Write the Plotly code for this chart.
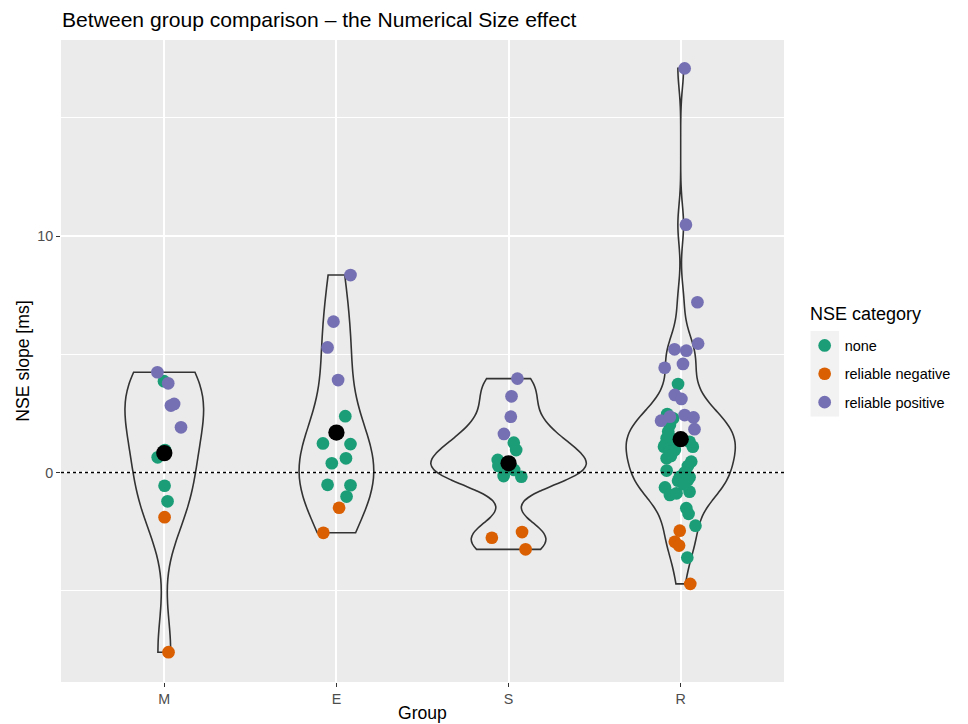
import numpy as np
import plotly.graph_objects as go

# ---------------- data ----------------
groups = ["M", "E", "S", "R"]
categories = ["none", "reliable negative", "reliable positive"]

# NSE slope values [ms], horizontal jitter (px at 175 px per group step), category code
M_values = [4.24, 3.86, 3.77, 2.83, 2.90, 1.91, 0.64, 0.95, -0.56, -1.22, -1.89, -7.60]
M_jitter = [-7, -0.3, 4, 6.7, 10, 17, -6.7, 0.7, 0.3, 3.3, 0.3, 4.3]
M_cat = ["pos", "none", "pos", "pos", "pos", "pos", "none", "none", "none", "none", "neg", "neg"]

E_values = [8.35, 6.38, 5.29, 3.91, 2.38, 1.23, 1.20, 0.60, 0.39, -0.52, -0.54, -1.02, -1.49, -2.55]
E_jitter = [14.3, -3, -9, 1.7, 9, -13.7, 14.3, 9.7, -4.7, -9, 14.3, 10.3, 2.7, -13.3]
E_cat = ["pos", "pos", "pos", "pos", "none", "none", "none", "none", "none", "none", "none", "none", "neg", "neg"]

S_values = [3.97, 3.22, 2.36, 1.63, 1.26, 0.95, 0.53, 0.27, -0.15, 0.11, -0.18, -2.76, -2.52, -3.25]
S_jitter = [9, 3, 2.3, -4.7, 5.3, 7.7, -11, -10.3, -5, 5.7, 13, -17, 13.7, 17.3]
S_cat = ["pos", "pos", "pos", "pos", "none", "none", "none", "none", "none", "none", "none", "neg", "neg", "neg"]

R_values = [17.09, 10.48, 7.20, 5.45, 5.21, 5.15, 4.59, 4.43, 3.28, 3.11, 2.19, 2.36, 2.43, 2.33, 1.83,
            3.74, 2.47, 2.29, 2.01, 1.73, 1.45, 1.16, 1.09, 1.30, 0.95, 0.88, 1.09, 1.30, 0.60, 0.46,
            0.27, 0.08, -0.18, -0.32, -0.39, -0.35, -0.63, -0.95, -0.88, -0.81, -1.51, -1.75, -2.25, -3.60,
            1.40, 1.55, 0.00, -0.50, -0.20, 0.70,
            -2.46, -2.93, -3.09, -4.71]
R_jitter = [4, 5.3, 17, 17.7, -6.3, 5.7, 2.3, -16.3, -6, 0.7, -20, -11, 4, 13, 14,
            -2.7, -13.7, -7.7, -11, -12.7, -14.3, -16, -17, -9.3, -6, -11, 12.3, 9, -14.3, 10.7,
            7.3, -14.3, -1, 7.3, 2.3, -2.7, -16, -11, -4.3, 9, 5.7, 8, 15, 6.7,
            -1, -12, 4, 3, 9, -10,
            -1, -6, -1.7, 9.7]
R_cat = ["pos"] * 15 + ["none"] * 35 + ["neg"] * 4

group_values = [M_values, E_values, S_values, R_values]
group_jitter = [M_jitter, E_jitter, S_jitter, R_jitter]
group_cats = [M_cat, E_cat, S_cat, R_cat]

y_tick_vals = [0, 10]
y_minor_vals = [-5, 5, 15]

# ---------------- style ----------------
FONT = "Liberation Sans, Arial, Helvetica, sans-serif"
cat_codes = {"none": "none", "neg": "reliable negative", "pos": "reliable positive"}
cat_colors = {"none": "#1B9E77", "neg": "#D95F02", "pos": "#7570B3"}
JITTER_UNIT = 175.0
VIOLIN_WIDTHS = [0.457, 0.434, 0.903, 0.634]  # max violin widths, in group steps (measured)

W, H = 968, 724
PL, PR, PT, PB = 61, 796, 40, 682  # panel edges in px


def px2paper_x(px):
    return (px - PL) / (PR - PL)


def px2paper_y(py):
    return (PB - py) / (PB - PT)


def nrd0(v):
    v = np.asarray(v, dtype=float)
    sd = v.std(ddof=1)
    q75, q25 = np.percentile(v, [75, 25])
    lo = min(sd, (q75 - q25) / 1.34)
    return 0.9 * lo * len(v) ** -0.2


bws = [nrd0(v) for v in group_values]

fig = go.Figure()

# violins (trimmed kernel density, nrd0 bandwidth)
for i, (g, vals) in enumerate(zip(groups, group_values)):
    fig.add_trace(go.Violin(
        x=[i + 1] * len(vals), y=vals,
        width=VIOLIN_WIDTHS[i],
        bandwidth=bws[i], spanmode="hard",
        scalegroup=g, scalemode="width",
        line=dict(color="#333333", width=1.6),
        fillcolor="rgba(0,0,0,0)",
        points=False, box_visible=False, meanline_visible=False,
        showlegend=False, hoverinfo="skip",
    ))

# jittered points per category
for code in ["none", "neg", "pos"]:
    xs, ys = [], []
    for i in range(len(groups)):
        for v, j, c in zip(group_values[i], group_jitter[i], group_cats[i]):
            if c == code:
                xs.append(i + 1 + j / JITTER_UNIT)
                ys.append(v)
    fig.add_trace(go.Scatter(
        x=xs, y=ys, mode="markers", name=cat_codes[code],
        legendgroup=code,
        marker=dict(color=cat_colors[code], size=12.7, line=dict(width=0)),
    ))

# group means
means = [float(np.mean(v)) for v in group_values]
fig.add_trace(go.Scatter(
    x=list(range(1, len(groups) + 1)), y=means, mode="markers",
    marker=dict(color="black", size=16.3, line=dict(width=0)),
    showlegend=False,
))

# dotted zero line
fig.add_hline(y=0, line=dict(color="black", width=1.4, dash="dot"), layer="above")

# grey key backgrounds for legend
fig.add_shape(type="rect", xref="paper", yref="paper",
              x0=px2paper_x(823), x1=px2paper_x(852),
              y0=px2paper_y(416.5), y1=px2paper_y(331),
              fillcolor="#F2F2F2", line=dict(width=0), layer="below")

# legend title as text
fig.add_annotation(text="NSE category", xref="paper", yref="paper",
                   x=px2paper_x(820), y=px2paper_y(314), xanchor="left", yanchor="middle",
                   showarrow=False, font=dict(size=18, family=FONT, color="black"))

# axis titles as text
fig.add_annotation(text="Group", xref="paper", yref="paper",
                   x=px2paper_x(428.5), y=px2paper_y(713), xanchor="center", yanchor="middle",
                   showarrow=False, font=dict(size=17.6, family=FONT, color="black"))
fig.add_annotation(text="NSE slope [ms]", xref="paper", yref="paper", textangle=-90,
                   x=px2paper_x(22), y=px2paper_y(361), xanchor="center", yanchor="middle",
                   showarrow=False, font=dict(size=17.6, family=FONT, color="black"))

fig.update_layout(
    width=W, height=H,
    margin=dict(l=PL, r=W - PR, t=PT, b=H - PB),
    paper_bgcolor="white", plot_bgcolor="#EBEBEB",
    font=dict(family=FONT, color="black"),
    violinmode="overlay",
    title=dict(text="Between group comparison – the Numerical Size effect",
               x=62 / W, xanchor="left", xref="container",
               y=1 - 19.5 / H, yanchor="middle", yref="container",
               font=dict(size=21.1, family=FONT, color="black")),
    legend=dict(
        font=dict(size=14.5, family=FONT, color="black"),
        x=px2paper_x(817), xanchor="left", y=px2paper_y(374), yanchor="middle",
        bgcolor="rgba(0,0,0,0)", tracegroupgap=6.5, itemsizing="trace",
    ),
    showlegend=True,
)

fig.update_xaxes(
    range=[0.4, 4.6], tickmode="array", tickvals=list(range(1, len(groups) + 1)), ticktext=groups,
    showgrid=True, gridcolor="white", gridwidth=1.6, zeroline=False,
    ticks="outside", ticklen=4, tickwidth=1.1, tickcolor="#333333",
    tickfont=dict(size=14.3, color="#4D4D4D", family=FONT),
    showline=False,
)
fig.update_yaxes(
    range=[-8.86, 18.29], tickmode="array", tickvals=y_tick_vals,
    showgrid=True, gridcolor="white", gridwidth=1.6, zeroline=False,
    minor=dict(tickmode="array", tickvals=y_minor_vals, showgrid=True, gridcolor="white", gridwidth=0.8, ticks=""),
    ticks="outside", ticklen=4, tickwidth=1.1, tickcolor="#333333",
    tickfont=dict(size=14.3, color="#4D4D4D", family=FONT),
    showline=False,
)

fig.write_html(
    "out.html",
    config={"displayModeBar": False},
    post_script="document.body.style.margin='0';document.documentElement.style.overflow='hidden';",
)
